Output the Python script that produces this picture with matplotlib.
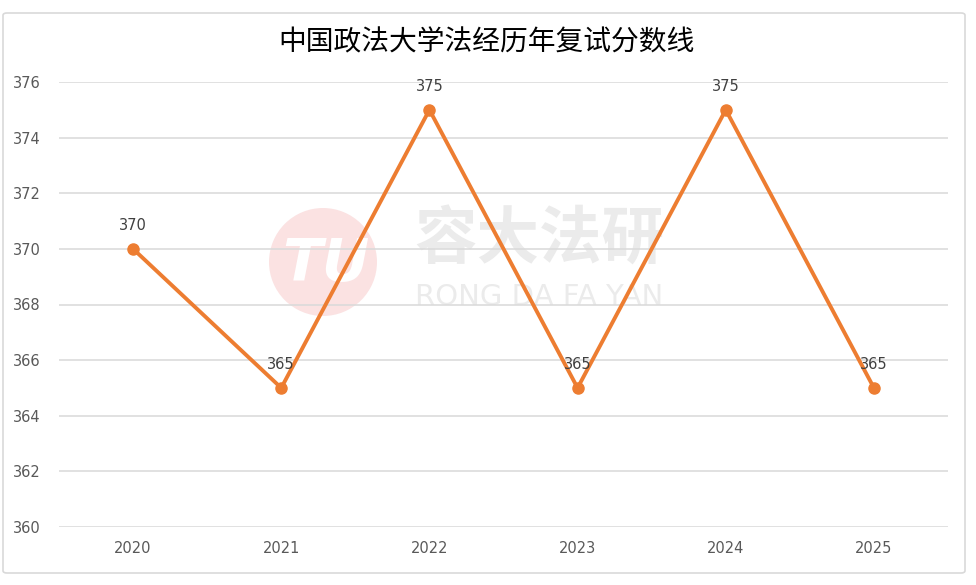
import matplotlib
matplotlib.use("Agg")
import matplotlib.pyplot as plt
from matplotlib.patches import Circle, FancyBboxPatch

years = ["2020", "2021", "2022", "2023", "2024", "2025"]
scores = [370, 365, 375, 365, 375, 365]
yticks = [360, 362, 364, 366, 368, 370, 372, 374, 376]
title = "中国政法大学法经历年复试分数线"

plt.rcParams['font.family'] = ['Noto Sans CJK SC', 'DejaVu Sans']

fig = plt.figure(figsize=(9.76, 5.85), dpi=100)
fig.patch.set_facecolor("white")

# outer border
border = FancyBboxPatch((3/976, 12/585), 962/976, 560/585,
                        boxstyle="round,pad=0,rounding_size=0.004",
                        transform=fig.transFigure, fill=False,
                        edgecolor="#D9D9D9", linewidth=1.2, zorder=0)
fig.add_artist(border)

# watermark
wm_ax = fig.add_axes([0, 0, 1, 1], zorder=0)
wm_ax.set_xlim(0, 976)
wm_ax.set_ylim(585, 0)
wm_ax.set_aspect('equal')
wm_ax.axis('off')
wm_ax.add_patch(Circle((323, 262), 54, facecolor="#FBE2E2", edgecolor="none"))
wm_ax.text(326, 264, "TU", fontsize=42, fontstyle='italic', fontweight='bold',
           color="white", ha='center', va='center', family='DejaVu Sans')
wm_ax.text(539, 240, "容大法研", fontsize=45, fontweight='bold', color="#EBEBEB",
           ha='center', va='center')
wm_ax.text(539, 297, "RONG DA FA YAN", fontsize=21, color="#EBEBEB",
           ha='center', va='center', family='DejaVu Sans')

ax = fig.add_axes([59/976, 1 - 527/585, 889/976, 445/585], zorder=1)
ax.patch.set_alpha(0)
x = list(range(len(years)))
ax.plot(x, scores, color="#ED7D31", linewidth=2.8, marker='o', markersize=8,
        markerfacecolor="#ED7D31", markeredgecolor="#ED7D31", zorder=3,
        solid_capstyle='round')
for xi, v in zip(x, scores):
    ax.annotate(str(v), (xi, v), xytext=(0, 17), textcoords='offset points',
                ha='center', va='center', fontsize=10.5, color="#404040",
                family='DejaVu Sans')

ax.set_xlim(-0.5, len(years) - 0.5)
ax.set_ylim(360, 376)
ax.set_yticks(yticks)
ax.set_yticklabels([str(t) for t in yticks], family='DejaVu Sans')
ax.set_xticks(x)
ax.set_xticklabels(years, family='DejaVu Sans')
ax.tick_params(axis='both', length=0, labelsize=10.5, labelcolor="#595959")
ax.tick_params(axis='y', pad=13)
ax.tick_params(axis='x', pad=10)
ax.grid(axis='y', color="#D9D9D9", linewidth=1.1)
ax.set_axisbelow(True)
for s in ax.spines.values():
    s.set_visible(False)

fig.text(486/976, 1 - 42/585, title, ha='center', va='center', fontsize=20,
         color="black")

fig.savefig("out.png", dpi=100, facecolor="white")
